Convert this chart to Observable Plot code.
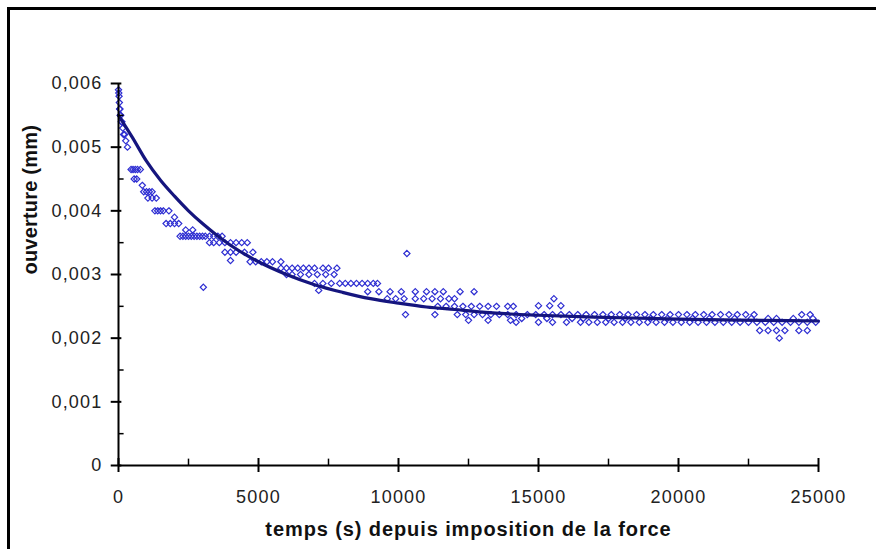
<!DOCTYPE html>
<html>
<head>
<meta charset="utf-8">
<script src="https://cdn.jsdelivr.net/npm/d3@7"></script>
<script src="https://cdn.jsdelivr.net/npm/@observablehq/plot@0.6"></script>
<style>
  html, body { margin: 0; padding: 0; background: #fff; }
  #wrap { position: relative; width: 876px; height: 549px; overflow: hidden; }
  #frame { position: absolute; left: 7px; top: 7px; width: 900px; height: 600px;
           border-top: 3px solid #000; border-left: 3px solid #000; pointer-events: none; }
  #wrap svg g[aria-label="y-axis tick label"] text,
  #wrap svg g[aria-label="x-axis tick label"] text { letter-spacing: 1.2px; }
  #wrap svg .xtitle text { letter-spacing: 0.9px; }
  #wrap svg .ytitle text { letter-spacing: 0.2px; }
</style>
</head>
<body>
<div id="wrap"><div id="frame"></div></div>
<script>
// Axis titles and ticks
const xTitle = "temps (s) depuis imposition de la force";
const yTitle = "ouverture (mm)";
const xTicks = [0, 5000, 10000, 15000, 20000, 25000];
const xMinorTicks = [2500, 7500, 12500, 17500, 22500];
const yTicks = [0, 0.001, 0.002, 0.003, 0.004, 0.005, 0.006];
const yMinorTicks = [0.0005, 0.0015, 0.0025, 0.0035, 0.0045, 0.0055];

const measured = [
  [0,0.0059],[10,0.00585],[20,0.0058],[30,0.0057],[40,0.0056],[50,0.0056],[60,0.0055],[80,0.0055],
  [100,0.0054],[120,0.0054],[150,0.0053],[180,0.0052],[220,0.0052],[260,0.0051],[320,0.0050],
  [450,0.00465],[520,0.00465],[600,0.00465],[680,0.00465],[780,0.00465],[560,0.0045],[650,0.0045],
  [850,0.0044],[900,0.0043],[1000,0.0043],[1100,0.0043],[1200,0.0043],[1050,0.0042],[1200,0.0042],[1350,0.0042],
  [1300,0.0040],[1400,0.0040],[1500,0.0040],[1600,0.0040],[1800,0.0040],[2000,0.0039],
  [1700,0.0038],[1850,0.0038],[2000,0.0038],[2150,0.0038],[2400,0.0037],[2650,0.0037],
  [2200,0.0036],[2300,0.0036],[2400,0.0036],[2500,0.0036],[2600,0.0036],[2700,0.0036],[2800,0.0036],
  [2900,0.0036],[3000,0.0036],[3100,0.0036],[3250,0.0036],[3400,0.0036],[3550,0.0036],[3700,0.0036],
  [3250,0.0035],[3400,0.0035],[3600,0.0035],[3800,0.0035],[4000,0.0035],[4200,0.0035],[4400,0.0035],[4600,0.0035],
  [3030,0.0028],
  [3800,0.00335],[4000,0.00335],[4200,0.00335],[4500,0.00335],[4800,0.00335],[4000,0.00322],
  [4700,0.0032],[4900,0.0032],[5100,0.0032],[5300,0.0032],[5500,0.0032],[5800,0.0032],
  [5800,0.0031],[6000,0.0031],[6200,0.0031],[6400,0.0031],[6600,0.0031],[6800,0.0031],[7000,0.0031],
  [7300,0.0031],[7500,0.0031],[7800,0.0031],
  [6000,0.0030],[6200,0.0030],[6500,0.0030],[6800,0.0030],[7100,0.0030],[7400,0.0030],[7700,0.0030],
  [7000,0.00286],[7300,0.00286],[7600,0.00286],[7900,0.00286],[8100,0.00286],[8300,0.00286],[8500,0.00286],
  [8700,0.00286],[8900,0.00286],[9100,0.00286],[9250,0.00286],[7150,0.00275],
  [10300,0.00333],
  [8900,0.00273],[9300,0.00273],[9700,0.00273],[10100,0.00273],[10600,0.00273],[11000,0.00273],
  [11300,0.00273],[11600,0.00273],[12200,0.00273],[12700,0.00273],
  [9600,0.00262],[9900,0.00262],[10200,0.00262],[10600,0.00262],[10900,0.00262],[11200,0.00262],
  [11500,0.00262],[11800,0.00262],[12000,0.00262],
  [11400,0.0025],[11700,0.0025],[12000,0.0025],[12300,0.0025],[12600,0.0025],[12900,0.0025],
  [13200,0.0025],[13500,0.0025],[13900,0.0025],[14100,0.0025],
  [10250,0.00237],[11300,0.00237],[12100,0.00237],[12400,0.00237],[12700,0.00237],[13000,0.00237],
  [13300,0.00237],[13600,0.00237],[13900,0.00237],[14200,0.00237],
  [12500,0.00228],[13200,0.00228],[14000,0.00228],
  [15000,0.00251],[15400,0.00251],[15800,0.00251],[15550,0.00262],
  [14600,0.00237],[14900,0.00237],[15200,0.00237],[15500,0.00237],[15800,0.00237],[16100,0.00237],
  [16400,0.00237],[16700,0.00237],[17000,0.00237],[17300,0.00237],[17600,0.00237],[17900,0.00237],
  [18200,0.00237],[18500,0.00237],[18800,0.00237],[19100,0.00237],[19400,0.00237],[19700,0.00237],
  [20000,0.00237],[20300,0.00237],[20600,0.00237],[20900,0.00237],[21200,0.00237],[21500,0.00237],
  [21800,0.00237],[22100,0.00237],[22400,0.00237],[22700,0.00237],[24400,0.00237],[24700,0.00237],
  [14400,0.00231],[15300,0.00231],[16200,0.00231],[16600,0.00231],[17500,0.00231],[18100,0.00231],
  [19000,0.00231],[19600,0.00231],[20500,0.00231],[21100,0.00231],[22000,0.00231],[22600,0.00231],
  [23200,0.00231],[23500,0.00231],[24100,0.00231],[24800,0.00231],
  [14200,0.00225],[15000,0.00225],[15500,0.00225],[16000,0.00225],[16500,0.00225],[16800,0.00225],
  [17100,0.00225],[17400,0.00225],[17700,0.00225],[18000,0.00225],[18300,0.00225],[18600,0.00225],
  [18900,0.00225],[19200,0.00225],[19500,0.00225],[19800,0.00225],[20100,0.00225],[20400,0.00225],
  [20700,0.00225],[21000,0.00225],[21300,0.00225],[21600,0.00225],[21900,0.00225],[22200,0.00225],
  [22500,0.00225],[22800,0.00225],[23100,0.00225],[23400,0.00225],[23700,0.00225],[24000,0.00225],
  [24300,0.00225],[24600,0.00225],[24900,0.00225],
  [22900,0.00212],[23200,0.00212],[23500,0.00212],[23800,0.00212],[24300,0.00212],[24600,0.00212],
  [23600,0.0020]
];

// Fitted curve
const fitTime  = [0, 500, 1000, 1500, 2000, 2500, 3000, 3500, 4000, 5000, 6000, 7000, 8000, 9000,
                  10000, 11000, 12000, 13000, 14000, 15000, 17000, 19000, 21000, 23000, 25000];
const fitValue = [0.0055, 0.00515, 0.00478, 0.00448, 0.00423, 0.00400, 0.00380, 0.00362, 0.00346,
                  0.00320, 0.00300, 0.00284, 0.00272, 0.00262, 0.00255, 0.00249, 0.00245, 0.00241,
                  0.00238, 0.00236, 0.00233, 0.00231, 0.00229, 0.00228, 0.00227];
const fit = fitTime.map((t, i) => ({t, v: fitValue[i]}));

const yFormat = d => d === 0 ? "0" : d.toFixed(3).replace(".", ",");

const chart = Plot.plot({
  width: 876,
  height: 549,
  marginLeft: 118,
  marginRight: 58,
  marginTop: 83,
  marginBottom: 84,
  x: {domain: [0, 25000]},
  y: {domain: [0, 0.006]},
  style: {fontFamily: "'Liberation Sans', Arial, sans-serif", fontSize: "18px", color: "#222", background: "transparent"},
  marks: [
    Plot.dot(measured, {x: d => d[0], y: d => d[1], symbol: "diamond2", r: 2.8, stroke: "#2e2ed2", strokeWidth: 1.2, fill: "none"}),
    Plot.line(fit, {x: "t", y: "v", stroke: "#15157e", strokeWidth: 3.2, curve: "monotone-x"}),
    Plot.ruleX([0], {stroke: "#000", strokeWidth: 2}),
    Plot.ruleY([0], {stroke: "#000", strokeWidth: 2}),
    Plot.ruleY(yTicks, {y: d => d, x1: -260, x2: 120, stroke: "#000", strokeWidth: 2}),
    Plot.ruleY(yMinorTicks, {y: d => d, x1: 0, x2: 200, stroke: "#000", strokeWidth: 1.5}),
    Plot.ruleX(xTicks, {x: d => d, y1: -0.00011, y2: 0.00011, stroke: "#000", strokeWidth: 2}),
    Plot.ruleX(xMinorTicks, {x: d => d, y1: 0, y2: 0.0001, stroke: "#000", strokeWidth: 1.5}),
    Plot.axisY(yTicks, {tickSize: 0, tickPadding: 16, tickFormat: yFormat, label: null, fontSize: 18}),
    Plot.axisX(xTicks, {tickSize: 0, tickPadding: 25, tickFormat: d => String(d), label: null, fontSize: 18}),
    Plot.text([xTitle], {text: d => d, frameAnchor: "bottom", dy: 70, fontWeight: "bold", fontSize: 20, fill: "#111", className: "xtitle"}),
    Plot.text([yTitle], {text: d => d, frameAnchor: "left", dx: -88, rotate: -90, fontWeight: "bold", fontSize: 20, fill: "#111", className: "ytitle"})
  ]
});
document.getElementById("wrap").prepend(chart);
</script>
</body>
</html>
